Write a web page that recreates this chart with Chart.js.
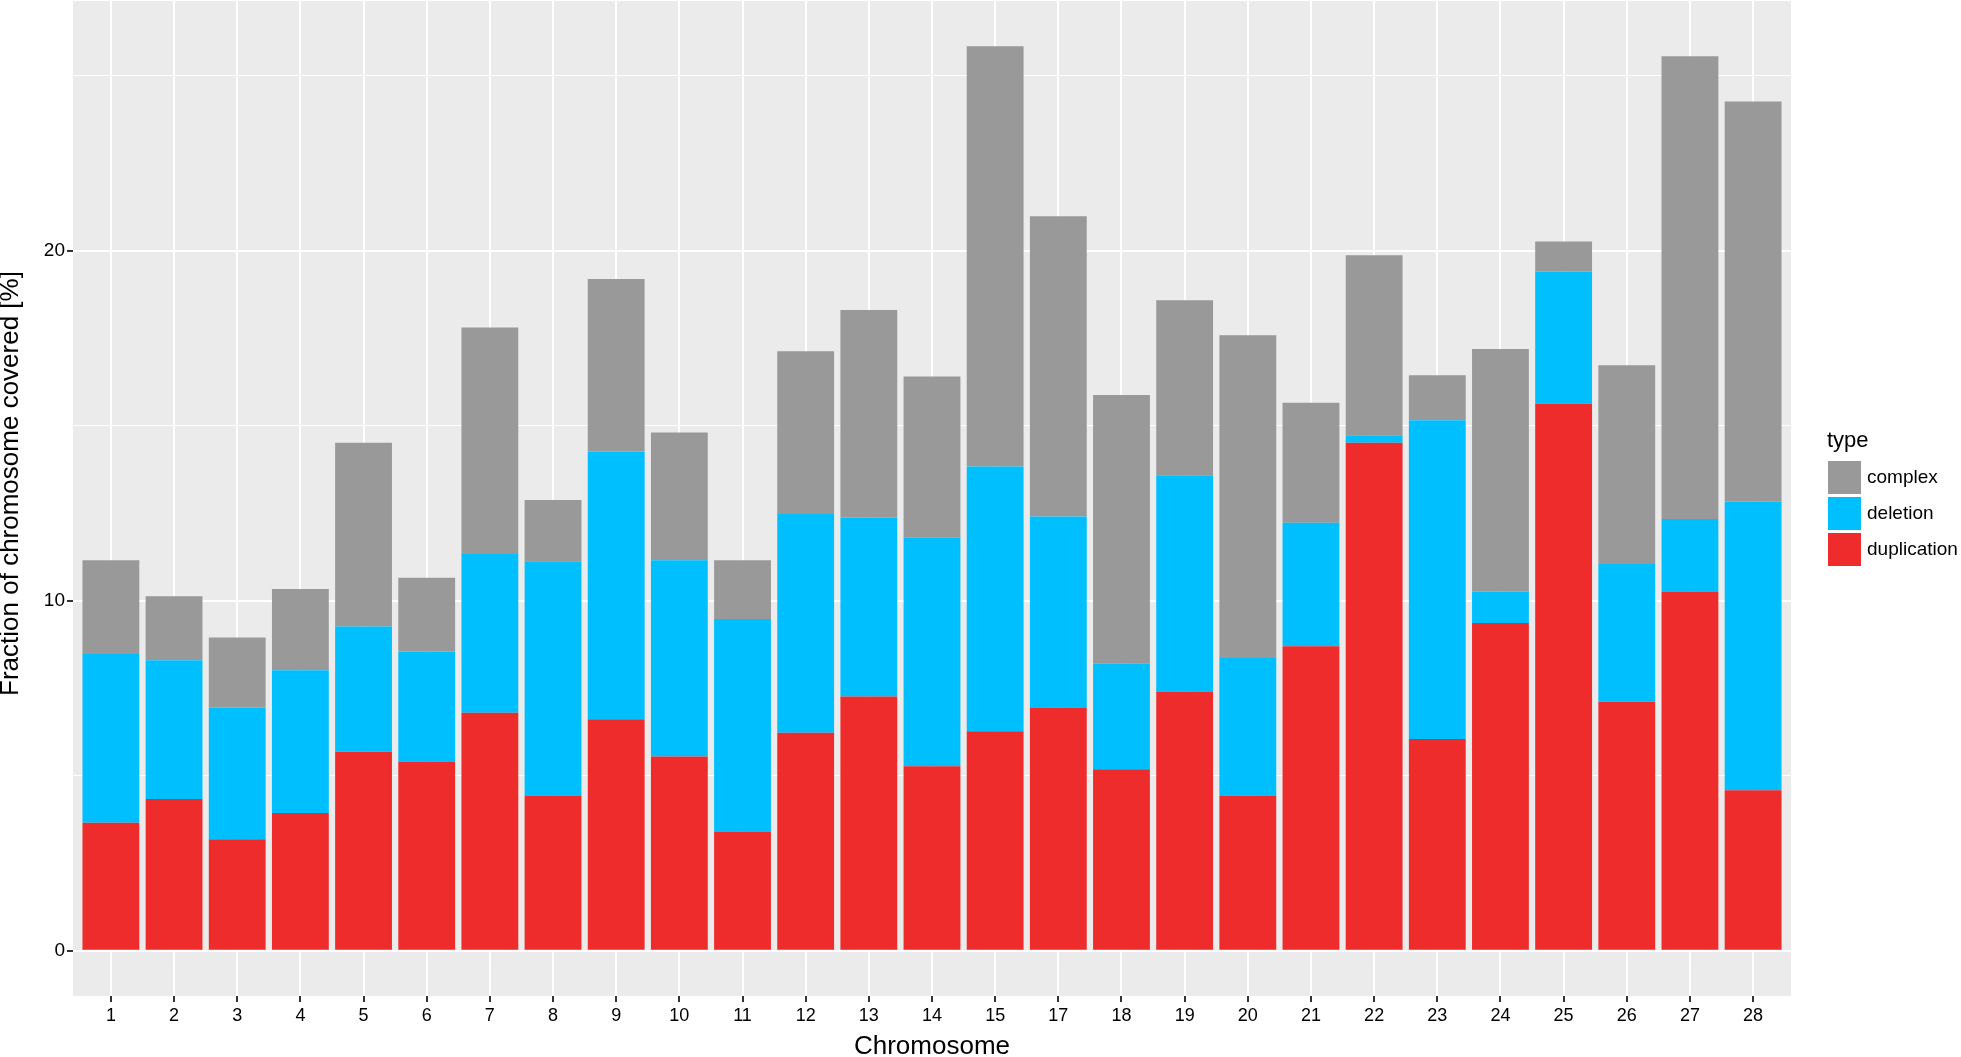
<!DOCTYPE html>
<html>
<head>
<meta charset="utf-8">
<script src="https://cdn.jsdelivr.net/npm/chart.js@4"></script>
<style>
  html, body { margin: 0; padding: 0; background: #ffffff; }
  #wrap { position: relative; width: 1961px; height: 1057px; }
  #legend { position: absolute; left: 1827px; top: 429px; font-family: 'Liberation Sans', Arial, sans-serif; color: #000; }
  #legend .title { font-size: 22px; line-height: 22px; height: 30px; }
  #legend .row { position: relative; height: 36px; line-height: 36px; font-size: 19px; }
  #legend .key { position: absolute; left: 1px; top: 1.5px; width: 33px; height: 33px; }
  #legend .lab { position: absolute; left: 40px; top: 0; white-space: nowrap; }
</style>
</head>
<body>
<div id="wrap">
  <canvas id="c" width="1961" height="1057"></canvas>
  <div id="legend"></div>
</div>
<script>
const categories = ['1','2','3','4','5','6','7','8','9','10','11','12','13','14','15','17','18','19','20','21','22','23','24','25','26','27','28'];
const duplication = [3.66,4.34,3.19,3.94,5.69,5.41,6.80,4.44,6.62,5.55,3.41,6.23,7.27,5.27,6.27,6.95,5.19,7.41,4.44,8.70,14.52,6.05,9.37,15.63,7.12,10.27,4.59];
const deletion    = [4.82,3.96,3.76,4.08,3.58,3.14,4.54,6.69,7.65,5.61,6.07,6.25,5.11,6.53,7.57,5.46,3.01,6.18,3.93,3.53,0.21,9.11,0.90,3.78,3.93,2.07,8.25];
const complex     = [2.68,1.83,2.00,2.32,5.25,2.11,6.47,1.75,4.93,3.65,1.68,4.65,5.93,4.61,12.01,8.58,7.68,5.00,9.22,3.43,5.15,1.29,6.93,0.86,5.68,13.22,11.43];
const seriesNames = ['duplication','deletion','complex'];
const seriesColors = ['#EE2C2C','#00BFFF','#999999'];
const yMajorTicks = [0,10,20];
const yMinorTicks = [5,15,25];
const xTitle = 'Chromosome';
const yTitle = 'Fraction of chromosome covered [%]';
const legendTitle = 'type';

const FONT = "'Liberation Sans', Arial, sans-serif";
const seriesValues = [duplication, deletion, complex];

const datasets = seriesNames.map((name, k) => ({
  label: name,
  data: seriesValues[k].map((v, i) => ({ x: i + 1, y: v })),
  backgroundColor: seriesColors[k],
  borderWidth: 0,
  barPercentage: 0.9,
  categoryPercentage: 1.0
}));

const totals = categories.map((c, i) => duplication[i] + deletion[i] + complex[i]);
const maxTotal = Math.max(...totals);
const yExpand = maxTotal * 0.05;

const panelBg = {
  id: 'panelBg',
  beforeDraw(chart) {
    const { ctx, chartArea: a } = chart;
    ctx.save();
    ctx.fillStyle = '#EBEBEB';
    ctx.fillRect(a.left, a.top, a.right - a.left, a.bottom - a.top);
    ctx.restore();
  }
};

const yTitlePlugin = {
  id: 'yTitlePlugin',
  afterDraw(chart) {
    const { ctx } = chart;
    ctx.save();
    ctx.translate(11, 483.5);
    ctx.rotate(-Math.PI / 2);
    ctx.font = '26px ' + FONT;
    ctx.fillStyle = '#000';
    ctx.textAlign = 'center';
    ctx.textBaseline = 'middle';
    ctx.fillText(yTitle, 0, 0);
    ctx.restore();
  }
};

new Chart(document.getElementById('c'), {
  type: 'bar',
  data: { datasets },
  plugins: [panelBg, yTitlePlugin],
  options: {
    responsive: false,
    devicePixelRatio: 1,
    animation: false,
    layout: { padding: { top: 1, right: 170, left: 0, bottom: 0 } },
    plugins: { legend: { display: false }, tooltip: { enabled: false } },
    scales: {
      x: {
        type: 'linear',
        stacked: true,
        offset: false,
        min: 0.4,
        max: categories.length + 0.6,
        afterBuildTicks: s => { s.ticks = categories.map((c, i) => ({ value: i + 1 })); },
        afterFit: s => { s.height = 61; s.paddingLeft = 0; s.paddingRight = 0; },
        ticks: {
          autoSkip: false, maxRotation: 0, minRotation: 0,
          padding: 3,
          color: '#000',
          font: { family: FONT, size: 18 },
          callback: v => categories[Math.round(v) - 1] ?? ''
        },
        grid: { offset: false, color: '#FFFFFF', lineWidth: 2, tickColor: '#333333', tickLength: 6, tickWidth: 2, drawOnChartArea: true },
        border: { display: false },
        title: { display: true, text: xTitle, color: '#000', font: { family: FONT, size: 26, lineHeight: 1 }, padding: { top: 0, bottom: -3 } }
      },
      y: {
        type: 'linear',
        stacked: true,
        min: -yExpand,
        max: maxTotal + yExpand,
        afterBuildTicks: s => { s.ticks = yMajorTicks.concat(yMinorTicks).sort((a, b) => a - b).map(v => ({ value: v })); },
        afterFit: s => { s.width = 73; s.paddingTop = 0; s.paddingBottom = 0; },
        ticks: {
          padding: 2,
          color: '#000',
          font: { family: FONT, size: 19 },
          callback: v => yMajorTicks.includes(v) ? String(v) : ''
        },
        grid: {
          color: '#FFFFFF',
          lineWidth: c => (c.tick && yMajorTicks.includes(c.tick.value)) ? 2 : 1,
          tickColor: c => (c.tick && yMajorTicks.includes(c.tick.value)) ? '#333333' : 'rgba(0,0,0,0)',
          tickLength: 6,
          tickWidth: 2
        },
        border: { display: false }
      }
    }
  }
});

// HTML legend (order as in reference: top of stack first)
const legend = document.getElementById('legend');
const t = document.createElement('div');
t.className = 'title';
t.textContent = legendTitle;
legend.appendChild(t);
for (let k = seriesNames.length - 1; k >= 0; k--) {
  const row = document.createElement('div');
  row.className = 'row';
  const key = document.createElement('div');
  key.className = 'key';
  key.style.background = seriesColors[k];
  const lab = document.createElement('div');
  lab.className = 'lab';
  lab.textContent = seriesNames[k];
  row.appendChild(key);
  row.appendChild(lab);
  legend.appendChild(row);
}
</script>
</body>
</html>
